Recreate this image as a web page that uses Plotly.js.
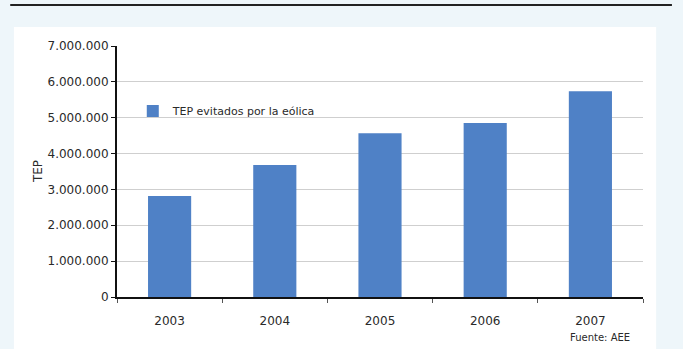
<!DOCTYPE html>
<html><head><meta charset="utf-8">
<script src="https://cdn.plot.ly/plotly-3.0.1.min.js"></script>
<style>html,body{margin:0;padding:0;background:#eef6fa;}#chart{width:683px;height:349px;}</style>
</head><body><div id="chart"></div>
<script>
const years = ['2003','2004','2005','2006','2007'];
const tepValues = [2820000, 3680000, 4570000, 4850000, 5740000];
const seriesName = 'TEP evitados por la eólica';
const yTitle = 'TEP';
const sourceNote = 'Fuente: AEE';

const font = 'DejaVu Sans, Arial, sans-serif';
const data = [{
  type: 'bar', x: years, y: tepValues, name: seriesName,
  marker: {color: '#4f81c6'}, showlegend: true
}];
const layout = {
  width: 683, height: 349,
  margin: {l: 117, r: 40, t: 46, b: 52},
  paper_bgcolor: '#eef6fa', plot_bgcolor: 'rgba(0,0,0,0)',
  separators: ',.',
  bargap: 0.59,
  font: {family: font, size: 12, color: '#2a2a2a'},
  xaxis: {type: 'category', showgrid: false, showline: true, linecolor: '#111', linewidth: 2,
    ticks: 'outside', tickson: 'boundaries', ticklen: 4, tickcolor: '#555',
    tickfont: {size: 12, color: '#2a2a2a'}, ticklabelstandoff: 12, fixedrange: true},
  yaxis: {range: [0, 7000000], dtick: 1000000, tickformat: ',d', showgrid: true,
    gridcolor: '#cfcfcf', gridwidth: 1, showline: true, linecolor: '#111', linewidth: 2,
    ticks: 'outside', ticklen: 4, tickcolor: '#111', zeroline: false,
    tickfont: {size: 12, color: '#2a2a2a'}},
  legend: {x: 0.030, y: 0.741, xanchor: 'left', yanchor: 'middle', bgcolor: 'rgba(0,0,0,0)',
    font: {size: 11, color: '#2a2a2a'}, itemwidth: 30},
  shapes: [
    {type: 'rect', xref: 'paper', yref: 'paper', x0: -0.196, x1: 1.025, y0: -0.21, y1: 1.076,
     fillcolor: '#ffffff', line: {width: 0}, layer: 'below'},
    {type: 'line', xref: 'paper', yref: 'paper', x0: -0.203, x1: 1.055, y0: 1.163, y1: 1.163,
     line: {color: '#222', width: 2}}
  ],
  annotations: [
    {text: yTitle, xref: 'paper', yref: 'paper', x: -0.150, y: 0.498, textangle: -90,
     xanchor: 'center', yanchor: 'middle',
     showarrow: false, font: {size: 12, color: '#2a2a2a'}},
    {text: sourceNote, xref: 'paper', yref: 'paper', x: 0.918, y: -0.161,
     xanchor: 'center', yanchor: 'middle', showarrow: false,
     font: {size: 10, color: '#2a2a2a'}}
  ]
};
Plotly.newPlot('chart', data, layout, {displayModeBar: false, staticPlot: true});
</script></body></html>
